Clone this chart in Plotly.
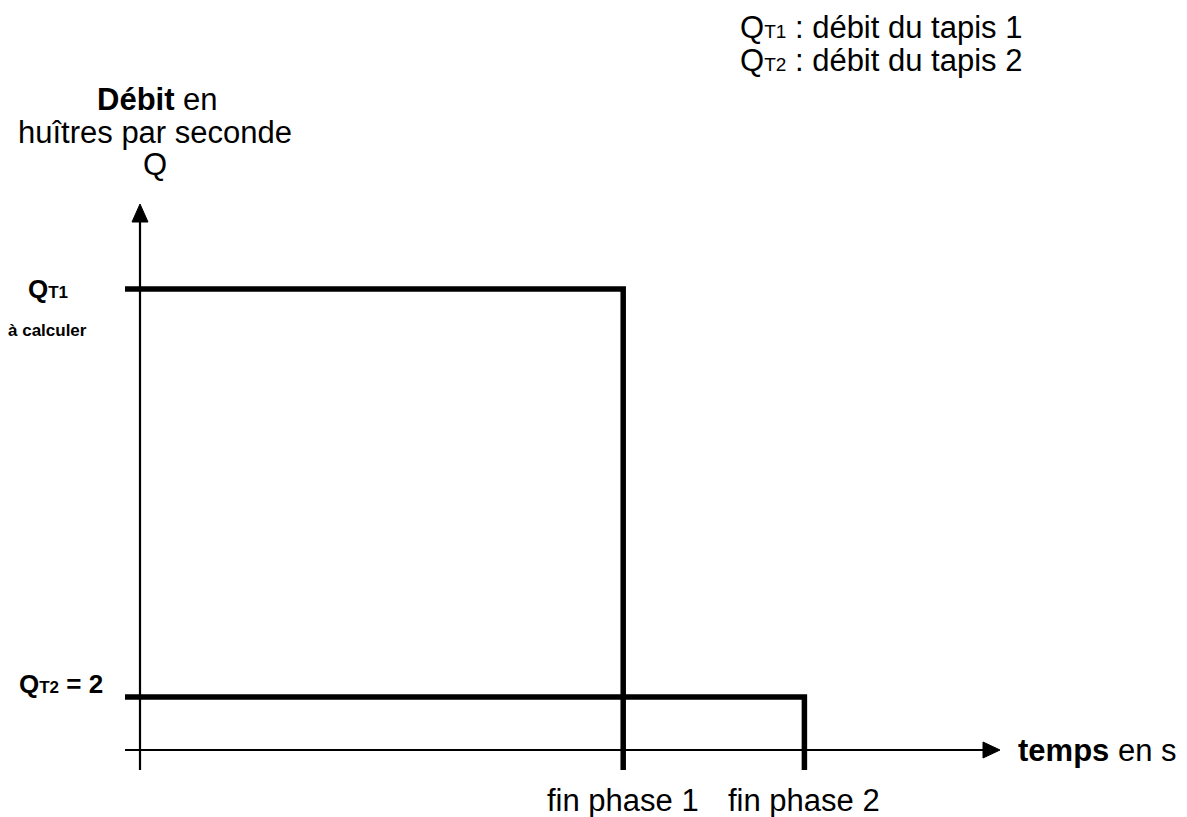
import plotly.graph_objects as go

# ---- data ----
phases = ["fin phase 1", "fin phase 2"]
phase_end_times = [8, 11]          # s (schematic)
flow_values = [17.4, 2]            # huîtres / s (Q_T1 à calculer, Q_T2 = 2)

W, H = 1187, 817
# axis scaling (data units)
X0_PX, Y0_PX = 140, 750
SX, SY = 60.4, 26.5
x_range = [(0 - X0_PX) / SX, (W - X0_PX) / SX]
y_range = [(Y0_PX - H) / SY, (Y0_PX - 0) / SY]

def dx(px):
    return (px - X0_PX) / SX

def dy(py):
    return (Y0_PX - py) / SY

FONT = "Liberation Sans, Arial, sans-serif"
BIG = 31
fig = go.Figure()

# axes lines
fig.add_trace(go.Scatter(x=[dx(125), dx(990)], y=[0, 0], mode="lines",
                         line=dict(color="black", width=2.2), hoverinfo="skip"))
fig.add_trace(go.Scatter(x=[0, 0], y=[dy(770), dy(215)], mode="lines",
                         line=dict(color="black", width=2.2), hoverinfo="skip"))
# arrowheads
fig.add_trace(go.Scatter(x=[dx(983), dx(1000), dx(983), dx(983)],
                         y=[dy(742), dy(750), dy(758), dy(742)],
                         mode="lines", fill="toself", fillcolor="black",
                         line=dict(color="black", width=1), hoverinfo="skip"))
fig.add_trace(go.Scatter(x=[dx(132), dx(140), dx(148), dx(132)],
                         y=[dy(222), dy(204), dy(222), dy(222)],
                         mode="lines", fill="toself", fillcolor="black",
                         line=dict(color="black", width=1), hoverinfo="skip"))

# flow steps
bottom = dy(770)
start = dx(125)
for t_end, q in zip(phase_end_times, flow_values):
    fig.add_trace(go.Scatter(x=[start, t_end, t_end], y=[q, q, bottom],
                             mode="lines", line=dict(color="black", width=5.5),
                             hoverinfo="skip"))

ann = []
# phase labels
for name, t in zip(phases, phase_end_times):
    ann.append(dict(x=t, y=dy(800), text=name, showarrow=False,
                    font=dict(size=BIG, color="black", family=FONT),
                    xanchor="center", yanchor="middle"))

# flow labels
ann.append(dict(x=dx(48), y=flow_values[0], text="<b>Q<span style='font-size:17px'>T1</span></b>",
                showarrow=False, font=dict(size=26, color="black", family=FONT),
                xanchor="center", yanchor="middle"))
ann.append(dict(x=dx(47), y=dy(330), text="<b>à calculer</b>", showarrow=False,
                font=dict(size=17, color="black", family=FONT),
                xanchor="center", yanchor="middle"))
ann.append(dict(x=dx(61), y=dy(684), text="<b>Q<span style='font-size:17px'>T2</span> = 2</b>",
                showarrow=False, font=dict(size=26, color="black", family=FONT),
                xanchor="center", yanchor="middle"))

# y axis title
ann.append(dict(x=dx(157), y=dy(99), text="<b>Débit</b> en", showarrow=False,
                font=dict(size=BIG, color="black", family=FONT),
                xanchor="center", yanchor="middle"))
ann.append(dict(x=dx(155), y=dy(132), text="huîtres par seconde", showarrow=False,
                font=dict(size=BIG, color="black", family=FONT),
                xanchor="center", yanchor="middle"))
ann.append(dict(x=dx(155), y=dy(164), text="Q", showarrow=False,
                font=dict(size=BIG, color="black", family=FONT),
                xanchor="center", yanchor="middle"))

# x axis title
ann.append(dict(x=dx(1016), y=0, text="<b>temps</b> en s", showarrow=False,
                font=dict(size=BIG, color="black", family=FONT),
                xanchor="left", yanchor="middle"))

# legend text
ann.append(dict(x=dx(738), y=dy(27), text="Q<span style='font-size:19px'>T1</span> : débit du tapis 1",
                showarrow=False, font=dict(size=BIG, color="black", family=FONT),
                xanchor="left", yanchor="middle"))
ann.append(dict(x=dx(738), y=dy(60), text="Q<span style='font-size:19px'>T2</span> : débit du tapis 2",
                showarrow=False, font=dict(size=BIG, color="black", family=FONT),
                xanchor="left", yanchor="middle"))

fig.update_layout(
    width=W, height=H,
    margin=dict(l=0, r=0, t=0, b=0),
    paper_bgcolor="white", plot_bgcolor="white",
    showlegend=False,
    annotations=ann,
    xaxis=dict(range=x_range, visible=False, fixedrange=True),
    yaxis=dict(range=y_range, visible=False, fixedrange=True),
)

fig.write_html("out.html", config={"displayModeBar": False},
               post_script="document.body.style.margin='0';document.body.style.overflow='hidden';")
